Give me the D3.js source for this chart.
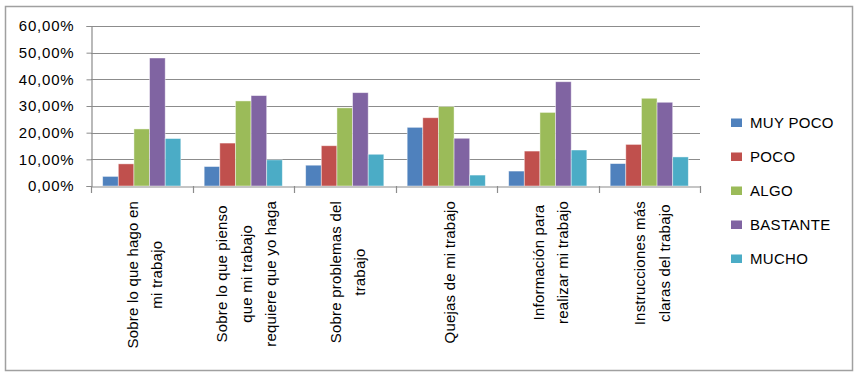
<!DOCTYPE html>
<html><head><meta charset="utf-8">
<script src="https://cdn.jsdelivr.net/npm/d3@7"></script>
<style>body{margin:0;background:#fff}text{font-family:"Liberation Sans",Arial,sans-serif;fill:#000}</style>
</head><body><svg id="c" width="861" height="379"></svg>
<script>
const categories = [
  ["Sobre lo que hago en","mi trabajo"],
  ["Sobre lo que pienso","que mi trabajo","requiere que yo haga"],
  ["Sobre problemas del","trabajo"],
  ["Quejas de mi trabajo"],
  ["Información para","realizar mi trabajo"],
  ["Instrucciones más","claras del trabajo"]
];
const seriesNames = ["MUY POCO","POCO","ALGO","BASTANTE","MUCHO"];
const seriesColors = ["#4F81BD","#C0504D","#9BBB59","#8064A2","#4BACC6"];
const muyPoco  = [3.6, 7.3, 7.8, 22.0, 5.6, 8.4];
const poco     = [8.3, 16.1, 15.1, 25.6, 13.1, 15.6];
const algo     = [21.4, 31.9, 29.3, 29.8, 27.6, 32.9];
const bastante = [48.0, 33.9, 35.0, 17.9, 39.1, 31.4];
const mucho    = [17.8, 9.8, 11.9, 4.1, 13.5, 10.9];
const yTicks = [0,10,20,30,40,50,60];

const series = [muyPoco, poco, algo, bastante, mucho];
const svg = d3.select("#c");

// outer border
svg.append("rect").attr("x",5.5).attr("y",6.5).attr("width",847).attr("height",364)
  .attr("fill","none").attr("stroke","#a0a0a0").attr("stroke-width",1.5);

const x0 = d3.scaleBand().domain(d3.range(categories.length)).range([91,700]).paddingInner(0.23).paddingOuter(0.115);
const xb = d3.scaleBand().domain(d3.range(categories.length)).range([91,700]);
const x1 = d3.scaleBand().domain(d3.range(series.length)).range([0,x0.bandwidth()]);
const y = d3.scaleLinear().domain([0,60]).range([186,26]);

// gridlines
svg.append("g").selectAll("line").data(yTicks.slice(1)).join("line")
  .attr("x1",91).attr("x2",700).attr("y1",d=>Math.round(y(d))+0.5).attr("y2",d=>Math.round(y(d))+0.5)
  .attr("stroke","#8c8c8c").attr("stroke-width",1.2);

// y axis
const yAxis = svg.append("g").attr("transform","translate(91.5,0)")
  .call(d3.axisLeft(y).tickValues(yTicks).tickSize(5).tickPadding(12)
    .tickFormat(d=>d.toFixed(2).replace(".",",")+"%"));
yAxis.select(".domain").attr("stroke","#8c8c8c").attr("stroke-width",1.2);
yAxis.selectAll(".tick line").attr("stroke","#8c8c8c");
yAxis.selectAll("text").attr("font-size",15).attr("font-family","Liberation Sans, Arial, sans-serif")
  .attr("letter-spacing","0.8px").attr("fill","#000");

// bars
const g = svg.append("g");
series.forEach((vals,si)=>{
  g.selectAll(null).data(vals).join("rect")
    .attr("x",(d,i)=>x0(i)+x1(si))
    .attr("y",d=>y(d))
    .attr("width",x1.bandwidth())
    .attr("height",d=>y(0)-y(d))
    .attr("fill",seriesColors[si])
    .attr("stroke","rgba(255,255,255,0.55)").attr("stroke-width",0.8);
});

// x axis
const xAxis = svg.append("g").attr("transform","translate(0,186.5)")
  .call(d3.axisBottom(xb).tickSize(0).tickFormat(""));
xAxis.select(".domain").attr("stroke","#8c8c8c").attr("stroke-width",1.2);
const tickPos = d3.range(categories.length+1).map(i=>91+i*xb.step());
svg.append("g").selectAll("line").data(tickPos).join("line")
  .attr("x1",d=>Math.round(d)+0.5).attr("x2",d=>Math.round(d)+0.5).attr("y1",186).attr("y2",193)
  .attr("stroke","#8c8c8c").attr("stroke-width",1.2);

// category labels
const lineGap = 24.5;
categories.forEach((lines,i)=>{
  const cx = xb(i)+xb.bandwidth()/2 + 3;
  const grp = svg.append("g");
  const texts = lines.map((t,k)=>grp.append("text").text(t)
    .attr("font-size",15).attr("letter-spacing","0.2px").attr("text-anchor","middle"));
  const maxLen = d3.max(texts, t=>t.node().getComputedTextLength());
  const cy = 201 + maxLen/2;
  texts.forEach((t,k)=>{
    const lx = cx + (k-(lines.length-1)/2)*lineGap;
    t.attr("transform",`translate(${lx},${cy}) rotate(-90)`).attr("dy","0.35em");
  });
});

// legend
const leg = svg.append("g");
seriesNames.forEach((n,i)=>{
  const cy = 122.8 + i*34;
  leg.append("rect").attr("x",731).attr("y",cy-4.3).attr("width",11).attr("height",8.5).attr("fill",seriesColors[i]);
  leg.append("text").attr("x",750).attr("y",cy).attr("dy","0.36em").attr("font-size",15)
    .attr("letter-spacing","0.3px").text(n);
});
</script></body></html>
